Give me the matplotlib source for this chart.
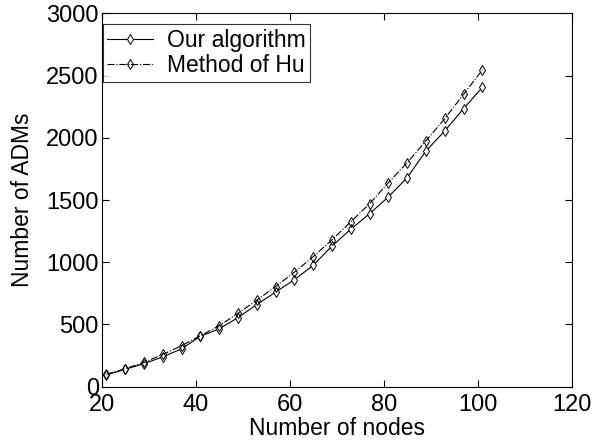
import matplotlib
matplotlib.use("Agg")
import matplotlib.pyplot as plt

nodes = [21, 25, 29, 33, 37, 41, 45, 49, 53, 57, 61, 65, 69, 73, 77, 81, 85, 89, 93, 97, 101]
ours = [95, 140, 185, 240, 305, 405, 465, 555, 660, 760, 860, 975, 1130, 1265, 1390, 1525, 1680, 1895, 2055, 2235, 2405]
hu = [100, 145, 195, 260, 330, 410, 490, 590, 695, 805, 920, 1045, 1180, 1325, 1470, 1640, 1800, 1975, 2155, 2350, 2545]

xticks = [20, 40, 60, 80, 100, 120]
yticks = [0, 500, 1000, 1500, 2000, 2500, 3000]

plt.rcParams['font.family'] = ['Liberation Sans', 'DejaVu Sans']

fig = plt.figure(figsize=(6.05, 4.43), dpi=100)
ax = fig.add_axes([0.168, 0.127, 0.777, 0.843])

ax.plot(nodes, ours, color='black', linestyle='-', linewidth=0.8,
        marker='d', markersize=5, markerfacecolor='white', markeredgecolor='black',
        markeredgewidth=0.7, label='Our algorithm')
ax.plot(nodes, hu, color='black', linestyle='-.', linewidth=0.8,
        marker='d', markersize=5, markerfacecolor='none', markeredgecolor='black',
        markeredgewidth=0.7, label='Method of Hu')

ax.set_xlim(20, 120)
ax.set_ylim(0, 3000)
ax.set_xticks(xticks)
ax.set_yticks(yticks)
ax.tick_params(direction='in', top=True, right=True, length=5, width=0.8,
               labelsize=17, pad=2)
ax.tick_params(axis='x', pad=5)
for s in ax.spines.values():
    s.set_linewidth(0.8)

ax.set_xlabel('Number of nodes', fontsize=16.5, labelpad=1)
ax.set_ylabel('Number of ADMs', fontsize=16.5, labelpad=9)

leg = ax.legend(loc='upper left', bbox_to_anchor=(0.002, 0.97), fontsize=16.5,
                frameon=True, fancybox=False, edgecolor='black', borderaxespad=0,
                handlelength=2.0, handletextpad=0.6, borderpad=0.2, labelspacing=0.1)
leg.get_frame().set_linewidth(0.8)

fig.savefig('out.png', dpi=100)
